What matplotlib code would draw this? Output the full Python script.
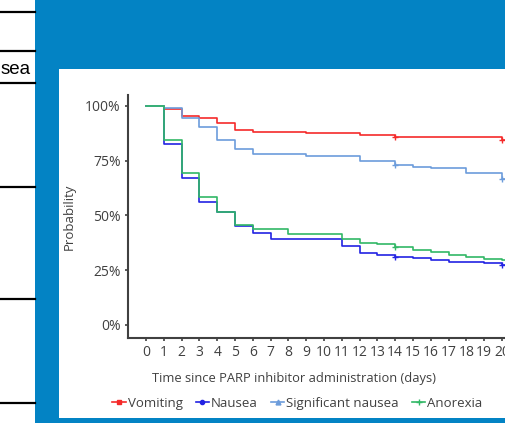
import matplotlib.pyplot as plt
from matplotlib.patches import Rectangle

plt.rcParams.update({
    "font.family": ["Open Sans", "DejaVu Sans"],
    "font.size": 10,
    "text.color": "#404040",
    "axes.labelcolor": "#404040",
    "xtick.color": "#404040",
    "ytick.color": "#404040",
})

# --- data (Kaplan-Meier style step curves) ---
vom_days = [0, 1, 2, 3, 4, 5, 6, 9, 12, 14, 20, 20.6]
vom_prob = [1.0, 0.984, 0.953, 0.942, 0.92, 0.888, 0.880, 0.874, 0.865, 0.856, 0.844, 0.844]

nau_days = [0, 1, 2, 3, 4, 5, 6, 7, 11, 12, 13, 14, 15, 16, 17, 19, 20, 20.6]
nau_prob = [1.0, 0.825, 0.670, 0.561, 0.514, 0.45, 0.421, 0.391, 0.36, 0.327,
            0.321, 0.311, 0.304, 0.296, 0.287, 0.281, 0.274, 0.274]

sig_days = [0, 1, 2, 3, 4, 5, 6, 9, 12, 14, 15, 16, 18, 20, 20.6]
sig_prob = [1.0, 0.99, 0.942, 0.904, 0.842, 0.803, 0.78, 0.771, 0.749, 0.731,
            0.722, 0.714, 0.694, 0.664, 0.664]

ano_days = [0, 1, 2, 3, 4, 5, 6, 8, 11, 12, 13, 14, 15, 16, 17, 18, 19, 20, 20.6]
ano_prob = [1.0, 0.842, 0.693, 0.585, 0.514, 0.456, 0.436, 0.413, 0.391, 0.375,
            0.368, 0.357, 0.343, 0.334, 0.319, 0.311, 0.301, 0.296, 0.296]

# censored observations (small tick marks)
vom_cens = ([14, 20], [0.856, 0.844])
nau_cens = ([14, 20], [0.311, 0.274])
sig_cens = ([14, 20], [0.731, 0.664])
ano_cens = ([14], [0.357])

x_ticks = list(range(0, 21))
y_ticks = [0, 0.25, 0.5, 0.75, 1.0]
y_tick_labels = ["0%", "25%", "50%", "75%", "100%"]
series_names = ["Vomiting", "Nausea", "Significant nausea", "Anorexia"]

BLUE = "#0383C4"
fig = plt.figure(figsize=(5.05, 4.23), dpi=100, facecolor="white")

# slide background drawn in pixel coordinates
bg = fig.add_axes([0, 0, 1, 1])
bg.set_xlim(0, 505)
bg.set_ylim(423, 0)
bg.axis("off")
bg.add_patch(Rectangle((34.5, 0), 471, 423, color=BLUE, lw=0))
bg.add_patch(Rectangle((58.5, 69), 447, 349.5, color="white", lw=0))
for yy in [12, 51.5, 83, 187, 299, 403]:
    bg.plot([0, 34.5], [yy, yy], color="black", lw=1.6)
bg.text(31, 70, "sea", fontsize=13.5, family="Liberation Sans", color="black",
        ha="right", va="center")

# chart
ax = fig.add_axes([127.7 / 505, 85.3 / 423, 401 / 505, 242.7 / 423])
ax.step(vom_days, vom_prob, where="post", color="#F52A2A", lw=1.2)
ax.step(nau_days, nau_prob, where="post", color="#2323E3", lw=1.2)
ax.step(sig_days, sig_prob, where="post", color="#6C9CDB", lw=1.2)
ax.step(ano_days, ano_prob, where="post", color="#31B866", lw=1.2)
ax.plot(*vom_cens, "+", color="#F52A2A", ms=4, mew=1)
ax.plot(*nau_cens, "+", color="#2323E3", ms=4, mew=1)
ax.plot(*sig_cens, "+", color="#6C9CDB", ms=4, mew=1)
ax.plot(*ano_cens, "+", color="#31B866", ms=4, mew=1)

ax.set_xlim(-1.03, 21.5)
ax.set_ylim(-0.058, 1.049)
ax.set_xticks(x_ticks)
ax.set_yticks(y_ticks)
ax.set_yticklabels(y_tick_labels)
ax.tick_params(length=2, width=1.2, pad=3)
for s in ["top", "right"]:
    ax.spines[s].set_visible(False)
for s in ["left", "bottom"]:
    ax.spines[s].set_color("#404040")
    ax.spines[s].set_linewidth(1.5)
ax.set_xlabel("Time since PARP inhibitor administration (days)", fontsize=9.3)
ax.xaxis.set_label_coords(0.415, -0.14)
ax.set_ylabel("Probability", fontsize=9.5)
ax.yaxis.set_label_coords(-0.13, 0.5)

# legend with line+marker handles
h = [
    plt.Line2D([], [], color="#F52A2A", marker="s", ms=3, lw=1.2),
    plt.Line2D([], [], color="#2323E3", marker="o", ms=3, lw=1.2),
    plt.Line2D([], [], color="#6C9CDB", marker="^", ms=3.5, lw=1.2),
    plt.Line2D([], [], color="#31B866", marker="+", ms=5, lw=1.2),
]
fig.legend(h, series_names, loc="center", bbox_to_anchor=(0.589, 0.047), ncol=4,
           frameon=False, handlelength=1.0, handletextpad=0.15, columnspacing=1.0,
           fontsize=9.5)

fig.savefig("out.png", dpi=100, facecolor="white")
